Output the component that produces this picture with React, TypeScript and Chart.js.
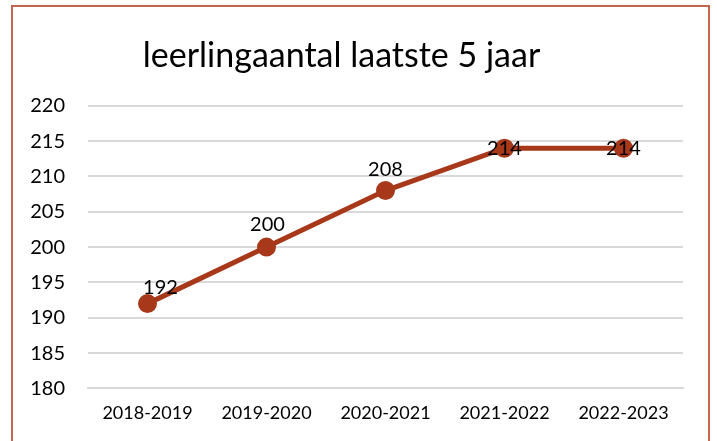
import React, { useEffect, useRef } from "react";
import { Chart, registerables } from "chart.js";

Chart.register(...registerables);

const categories = ["2018-2019", "2019-2020", "2020-2021", "2021-2022", "2022-2023"];
const leerlingen = [192, 200, 208, 214, 214];
const yMin = 180;
const yMax = 220;
const yStep = 5;
const titleText = "leerlingaantal laatste 5 jaar";

// label offsets (dx, dy) relative to the point, as rendered in the reference
const labelDx = [13, 1, 0, 0, 0];
const labelDy = [-16, -23, -21, 0, 0];

const FONT = "Lato, 'Open Sans', sans-serif";
const LINE_COLOR = "#A8381A";

const dataLabelPlugin = {
  id: "dataLabels",
  afterDatasetsDraw(chart: any) {
    const ctx = chart.ctx;
    const meta = chart.getDatasetMeta(0);
    ctx.save();
    ctx.font = `20px ${FONT}`;
    ctx.fillStyle = "#000";
    ctx.textAlign = "center";
    ctx.textBaseline = "middle";
    meta.data.forEach((pt: any, i: number) => {
      ctx.fillText(String(leerlingen[i]), pt.x + labelDx[i], pt.y + labelDy[i]);
    });
    ctx.restore();
  },
};

export default function App() {
  const ref = useRef<HTMLCanvasElement | null>(null);
  useEffect(() => {
    if (!ref.current) return;
    const chart = new Chart(ref.current, {
      type: "line",
      data: {
        labels: categories,
        datasets: [
          {
            data: leerlingen,
            borderColor: LINE_COLOR,
            backgroundColor: LINE_COLOR,
            borderWidth: 5,
            pointRadius: 7,
            pointHoverRadius: 7,
            pointBackgroundColor: LINE_COLOR,
            pointBorderColor: LINE_COLOR,
            tension: 0,
          },
        ],
      },
      options: {
        responsive: false,
        animation: false,
        layout: { padding: { left: 0, right: 34, top: 22, bottom: 3 } },
        plugins: {
          legend: { display: false },
          tooltip: { enabled: false },
          title: {
            display: true,
            text: titleText,
            color: "#000",
            font: { family: FONT, size: 34, weight: "normal" },
            padding: { top: 14, bottom: 29 },
          },
        },
        scales: {
          x: {
            offset: true,
            grid: { display: false, drawTicks: false },
            border: { display: true, color: "#d9d9d9", width: 2 },
            ticks: {
              color: "#000",
              font: { family: FONT, size: 18 },
              padding: 14,
              maxRotation: 0,
            },
          },
          y: {
            min: yMin,
            max: yMax,
            afterFit(scale: any) {
              scale.width = 88;
            },
            grid: { color: "#d9d9d9", lineWidth: 2, drawTicks: false },
            border: { display: false },
            ticks: {
              stepSize: yStep,
              color: "#000",
              font: { family: FONT, size: 20 },
              padding: 23,
            },
          },
        },
      },
      plugins: [dataLabelPlugin],
    });
    return () => chart.destroy();
  }, []);

  return (
    <div style={{ position: "absolute", left: 0, top: 0, width: 717, height: 441, overflow: "hidden", background: "#fff" }}>
      <canvas ref={ref} width={717} height={441} style={{ position: "absolute", left: 0, top: 0 }} />
      <div
        style={{
          position: "absolute",
          left: 11,
          top: 5,
          width: 699,
          height: 460,
          border: "2px solid #C3654F",
          boxSizing: "border-box",
          pointerEvents: "none",
        }}
      />
    </div>
  );
}
